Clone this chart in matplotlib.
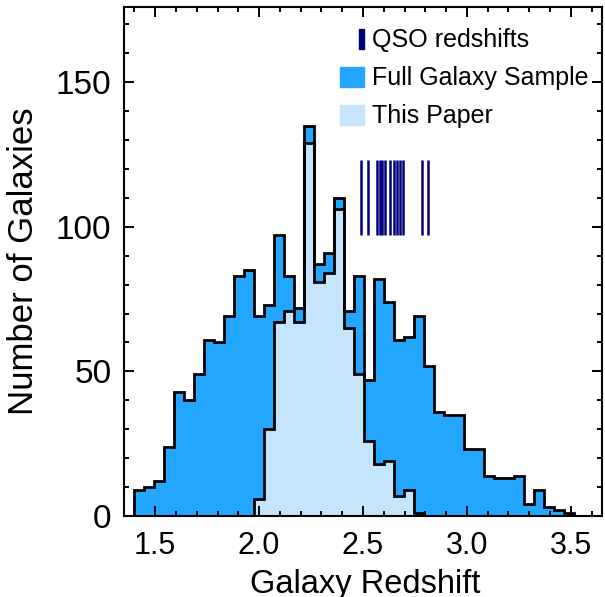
import numpy as np
import matplotlib
matplotlib.use("Agg")
import matplotlib.pyplot as plt
import matplotlib.patches as mpatches
from matplotlib.legend_handler import HandlerPatch

plt.rcParams["font.family"] = ["Liberation Sans", "DejaVu Sans"]

# histogram binning (44 bins)
z_lo, z_hi, n_bins = 1.398, 3.513, 44
edges = np.linspace(z_lo, z_hi, n_bins + 1)

full_counts = [9, 10, 12, 24, 43, 40, 49, 61, 60, 69, 83, 85, 69, 73, 97, 83,
               72, 135, 87, 91, 110, 71, 83, 47, 82, 74, 61, 62, 69, 52, 36, 35,
               35, 23, 23, 14, 13, 13, 14, 4, 9, 3, 2, 1]
paper_counts = [0, 0, 0, 0, 0, 0, 0, 0, 0, 0, 0, 0, 6, 30, 67, 71,
                67, 129, 81, 84, 106, 65, 49, 26, 18, 19, 7, 9, 1, 0, 0, 0,
                0, 0, 0, 0, 0, 0, 0, 0, 0, 0, 0, 0]

qso_z = [2.488, 2.526, 2.567, 2.580, 2.592, 2.604, 2.628, 2.649, 2.663,
         2.676, 2.694, 2.782, 2.814]
qso_ymin, qso_ymax = 97, 123

dark = "#22A6FF"
light = "#C4E5FB"
navy = "#00007F"

fig = plt.figure(figsize=(6.05, 5.97), dpi=100)
ax = fig.add_axes([124 / 605, 1 - 516 / 597, 478 / 605, 509 / 597])

ax.stairs(full_counts, edges, baseline=0, fill=True, color=dark, lw=0)
ax.stairs(paper_counts, edges, baseline=0, fill=True, color=light, lw=0)
ax.stairs(full_counts, edges, baseline=0, color="black", lw=2)
ax.stairs(paper_counts, edges, baseline=0, color="black", lw=2)

ax.vlines(qso_z, qso_ymin, qso_ymax, color=navy, lw=1.8)

ax.set_xlim(1.35, 3.65)
ax.set_ylim(0, 176)
ax.set_xticks([1.5, 2.0, 2.5, 3.0, 3.5])
ax.set_xticklabels(["1.5", "2.0", "2.5", "3.0", "3.5"])
ax.set_xticks(np.arange(1.4, 3.65, 0.1), minor=True)
ax.set_yticks([0, 50, 100, 150])
ax.set_yticks(np.arange(0, 176, 10), minor=True)
ax.tick_params(which="both", direction="in", top=True, right=True, width=1.4)
ax.tick_params(axis="x", labelsize=22, pad=11)
ax.tick_params(axis="y", labelsize=24, pad=9)
ax.tick_params(which="major", length=7.2)
ax.tick_params(which="minor", length=3.6)
for s in ax.spines.values():
    s.set_linewidth(1.5)

ax.set_xlabel("Galaxy Redshift", fontsize=23.5)
ax.xaxis.set_label_coords(0.505, -0.104)
ax.xaxis.label.set_va("top")
ax.set_ylabel("Number of Galaxies", fontsize=25)
ax.yaxis.set_label_coords(-0.176, 0.5)


def qso_bar(legend, orig_handle, xdescent, ydescent, width, height, fontsize):
    return mpatches.Rectangle((width - xdescent - 3.6, -ydescent), 3.6, height)


h_qso = mpatches.Patch(color=navy, label="QSO redshifts")
h_full = mpatches.Patch(color=dark, label="Full Galaxy Sample")
h_paper = mpatches.Patch(color=light, label="This Paper")
ax.legend(handles=[h_qso, h_full, h_paper], loc="upper left",
          bbox_to_anchor=(0.452, 0.958), frameon=False, fontsize=18,
          borderpad=0, borderaxespad=0, handlelength=0.96, handleheight=0.88,
          handletextpad=0.32, labelspacing=0.56,
          handler_map={h_qso: HandlerPatch(patch_func=qso_bar)})

fig.savefig("out.png", dpi=100)
